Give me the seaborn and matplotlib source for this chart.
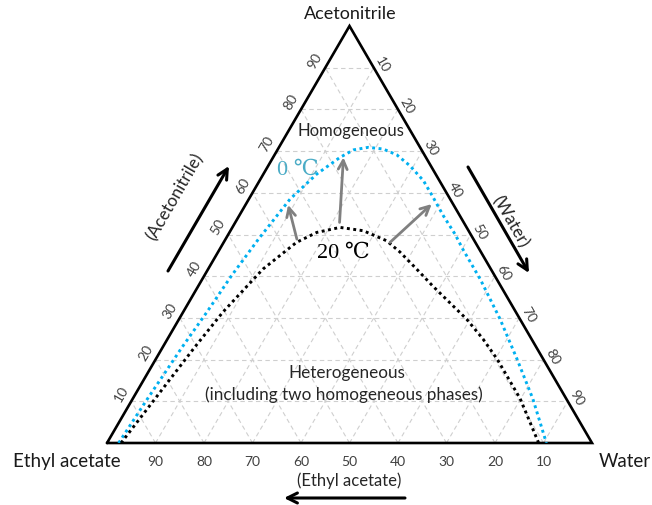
import numpy as np
import pandas as pd
import seaborn as sns
import matplotlib.pyplot as plt

sns.set_style("white")
plt.rcParams['font.family'] = ['Lato', 'DejaVu Sans']

# mole fractions (%), left to right
blue_acn = [0, 10, 23, 31.4, 40, 49, 58.5, 64.5, 68.5, 70.3, 70.9, 70.5, 69.1, 66.5, 62.9,
            58.9, 54.5, 50.1, 46.5, 39.3, 29.7, 20.1, 10.6, 0]
blue_water = [2.4, 3.0, 4.0, 4.9, 5.6, 6.8, 8.5, 11.0, 13.8, 15.7, 18.4, 21.7, 25.2, 29.2, 33.8,
              37.8, 42.1, 46.7, 50.1, 57.3, 66.2, 74.5, 82.5, 90.6]
black_acn = [0, 10, 23, 31.4, 41.7, 48.1, 50.5, 51.7, 50.9, 48.5, 45.8, 41.7, 37.6, 29.7, 24.9,
             20.1, 10.6, 0]
black_water = [2.9, 4.5, 6.6, 8.2, 11.3, 15.0, 18.0, 22.2, 27.4, 33.4, 37.5, 43.0, 48.4, 59.3, 65.1,
               70.4, 79.9, 89]

# shift arrows: (acetonitrile, water) of tail -> head
arrow_tails = [(48.9, 14.7), (52.9, 21.5), (48.1, 34.3)]
arrow_heads = [(57.1, 8.8), (68.5, 14.5), (57.3, 38.3)]

ticks = [10, 20, 30, 40, 50, 60, 70, 80, 90]

S = np.sqrt(3) / 2


def tern(acn, water):
    acn = np.asarray(acn) / 100.0
    water = np.asarray(water) / 100.0
    return water + acn / 2, acn * S


def fig_xy(px, py):
    return px / 652, 1 - py / 506


fig = plt.figure(figsize=(6.52, 5.06), dpi=100)
ax = fig.add_axes([107 / 652, 62 / 506, 485 / 652, 417 / 506])

# grid
grid_kw = dict(color="#cfcfcf", lw=0.8, ls=(0, (4, 3)), zorder=1)
for k in ticks:
    ax.plot(*tern([k, k], [0, 100 - k]), **grid_kw)
    ax.plot(*tern([0, 100 - k], [k, k]), **grid_kw)
    ax.plot(*tern([0, 100 - k], [100 - k, 0]), **grid_kw)

# triangle
tx, ty = tern([0, 0, 100, 0], [0, 100, 0, 0])
ax.plot(tx, ty, color="black", lw=1.9, solid_joinstyle="miter", zorder=3, clip_on=False)

# binodal curves
bx, by = tern(blue_acn, blue_water)
kx, ky = tern(black_acn, black_water)
df_blue = pd.DataFrame({"x": bx, "y": by})
df_black = pd.DataFrame({"x": kx, "y": ky})
sns.lineplot(data=df_blue, x="x", y="y", sort=False, estimator=None, ax=ax,
             color="#00b0f0", lw=2.1, ls=(0, (1, 1.2)), zorder=4)
sns.lineplot(data=df_black, x="x", y="y", sort=False, estimator=None, ax=ax,
             color="black", lw=2.1, ls=(0, (1, 1.2)), zorder=4)
ax.set_xlim(0, 1)
ax.set_ylim(0, S)
ax.axis("off")

for t, h in zip(arrow_tails, arrow_heads):
    ax.annotate("", xy=tern(*h), xytext=tern(*t),
                arrowprops=dict(arrowstyle="->", color="#808080", lw=2, mutation_scale=16,
                                shrinkA=0, shrinkB=0), zorder=5)

# tick labels
tick_color = "#404040"
for k in ticks:
    # bottom: ethyl acetate
    x, y = tern(0, 100 - k)
    ax.annotate(str(k), (x, y), xytext=(0, -18), textcoords="offset pixels",
                ha="center", va="center", fontsize=10, color=tick_color, annotation_clip=False)
    # left: acetonitrile
    x, y = tern(k, 0)
    ax.annotate(str(k), (x, y), xytext=(-10, 8), textcoords="offset pixels",
                ha="center", va="center", fontsize=10, color=tick_color, rotation=60,
                annotation_clip=False)
    # right: water
    x, y = tern(100 - k, k)
    ax.annotate(str(k), (x, y), xytext=(9, 4), textcoords="offset pixels",
                ha="center", va="center", fontsize=10, color=tick_color, rotation=-60,
                annotation_clip=False)

label_color = "#1a1a1a"
fig.text(*fig_xy(350, 14), "Acetonitrile", ha="center", va="center", fontsize=13, color=label_color)
fig.text(*fig_xy(67, 462), "Ethyl acetate", ha="center", va="center", fontsize=13.5, color=label_color)
fig.text(*fig_xy(625, 462), "Water", ha="center", va="center", fontsize=13.5, color=label_color)

fig.text(*fig_xy(351, 131), "Homogeneous", ha="center", va="center", fontsize=12, color="#262626")
fig.text(*fig_xy(347, 373), "Heterogeneous", ha="center", va="center", fontsize=12.3, color="#262626")
fig.text(*fig_xy(344, 395), "(including two homogeneous phases)", ha="center", va="center",
         fontsize=12.3, color="#262626")

serif = ["Liberation Serif", "DejaVu Serif"]
fig.text(*fig_xy(298, 170), "0 \u2103", ha="center", va="center", fontsize=16,
         color="#4bacc6", family=serif)
fig.text(*fig_xy(343, 253), "20 \u2103", ha="center", va="center", fontsize=16,
         color="black", family=serif)

fig.text(*fig_xy(175, 197), "(Acetonitrile)", ha="center", va="center", fontsize=12.3,
         rotation=60, color="#262626")
fig.text(*fig_xy(510, 222), "(Water)", ha="center", va="center", fontsize=12.3,
         rotation=-60, color="#262626")
fig.text(*fig_xy(349, 481), "(Ethyl acetate)", ha="center", va="center", fontsize=12,
         color="#262626")

big_arrow = dict(arrowstyle="->", color="black", lw=2.2, mutation_scale=18, shrinkA=0, shrinkB=0)
for tail, head in [((168, 272), (229, 167)), ((468, 168), (529, 274)), ((405, 499), (284, 499))]:
    ax.annotate("", xy=fig_xy(*head), xytext=fig_xy(*tail), xycoords="figure fraction",
                textcoords="figure fraction", arrowprops=big_arrow, annotation_clip=False)

fig.savefig("out.png", dpi=100)
plt.close(fig)
